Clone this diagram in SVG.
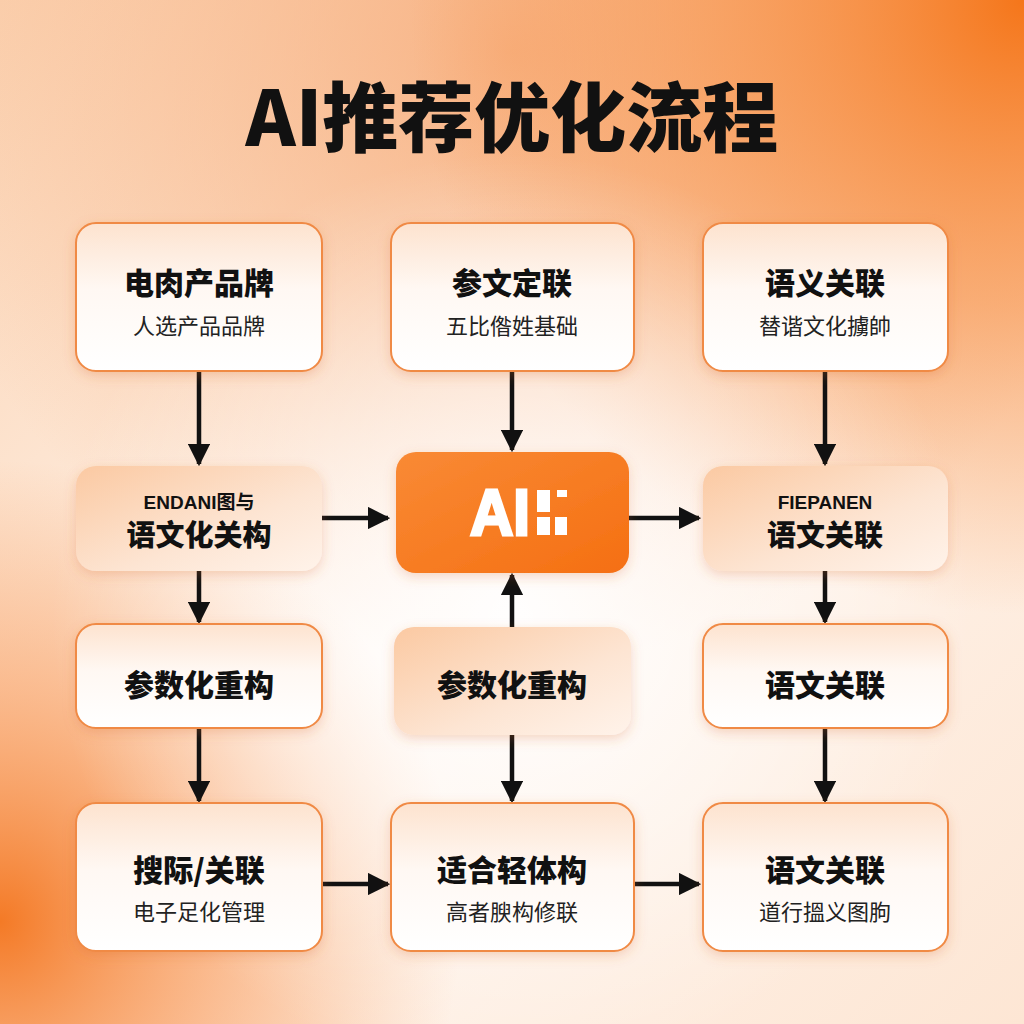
<svg xmlns="http://www.w3.org/2000/svg" width="1024" height="1024" viewBox="0 0 1024 1024">
<defs>
  <linearGradient id="bgBase" x1="0" y1="0" x2="1" y2="1">
    <stop offset="0" stop-color="#fbd3b3"/>
    <stop offset="0.5" stop-color="#fff6ef"/>
    <stop offset="1" stop-color="#fde6d4"/>
  </linearGradient>
  <radialGradient id="glowTR" cx="1" cy="0" r="0.6">
    <stop offset="0" stop-color="#f5761a"/>
    <stop offset="0.5" stop-color="#f7934a" stop-opacity="0.7"/>
    <stop offset="1" stop-color="#f7934a" stop-opacity="0"/>
  </radialGradient>
  <radialGradient id="glowBL" cx="0" cy="0.9" r="0.45">
    <stop offset="0" stop-color="#f47a26"/>
    <stop offset="0.5" stop-color="#f89a5a" stop-opacity="0.6"/>
    <stop offset="1" stop-color="#f89a5a" stop-opacity="0"/>
  </radialGradient>
  <radialGradient id="glowTop" cx="0.5" cy="0.05" r="0.6">
    <stop offset="0" stop-color="#f6a670" stop-opacity="0.8"/>
    <stop offset="1" stop-color="#f6a670" stop-opacity="0"/>
  </radialGradient>
  <radialGradient id="centerWhite" cx="0.5" cy="0.6" r="0.45">
    <stop offset="0" stop-color="#ffffff" stop-opacity="0.95"/>
    <stop offset="1" stop-color="#ffffff" stop-opacity="0"/>
  </radialGradient>
  <linearGradient id="cardFill" x1="0" y1="0" x2="0" y2="1">
    <stop offset="0" stop-color="#fde3cf"/>
    <stop offset="0.45" stop-color="#fff8f3"/>
    <stop offset="1" stop-color="#ffffff"/>
  </linearGradient>
  <linearGradient id="softFill" x1="0" y1="0" x2="1" y2="1">
    <stop offset="0" stop-color="#fbc9a2"/>
    <stop offset="0.6" stop-color="#fde5d3"/>
    <stop offset="1" stop-color="#fff3ea"/>
  </linearGradient>
  <linearGradient id="aiFill" x1="0" y1="0" x2="1" y2="1">
    <stop offset="0" stop-color="#f98a35"/>
    <stop offset="1" stop-color="#f56f12"/>
  </linearGradient>
  <filter id="shadow" x="-20%" y="-20%" width="140%" height="150%">
    <feDropShadow dx="0" dy="4" stdDeviation="6" flood-color="#d9692a" flood-opacity="0.25"/>
  </filter>
  <marker id="arrow" viewBox="0 0 10 10" refX="9" refY="5" markerWidth="5" markerHeight="5" orient="auto" markerUnits="strokeWidth">
    <path d="M0,0 L10,5 L0,10 z" fill="#111"/>
  </marker>
</defs>
<style>
  .card { fill: url(#cardFill); stroke: #f08a45; stroke-width: 2; filter: url(#shadow); }
  .soft { fill: url(#softFill); filter: url(#shadow); }
  .h { font-family: "Noto Sans CJK SC", "Noto Sans", sans-serif; font-weight: 900; fill: #111; text-anchor: middle; }
  .s { font-family: "Noto Sans CJK SC", "Noto Sans", sans-serif; font-weight: 400; fill: #222; text-anchor: middle; font-size: 22px; }
  .en { font-family: "Liberation Sans", "Noto Sans CJK SC", sans-serif; font-weight: 700; fill: #111; text-anchor: middle; font-size: 19px; }
  .conn line { stroke: #111; stroke-width: 4.5; marker-end: url(#arrow); }
</style>

<rect width="1024" height="1024" fill="url(#bgBase)"/>
<rect width="1024" height="1024" fill="url(#glowTop)"/>
<rect width="1024" height="1024" fill="url(#glowTR)"/>
<rect width="1024" height="1024" fill="url(#glowBL)"/>
<rect width="1024" height="1024" fill="url(#centerWhite)"/>

<text id="title" x="512" y="146" class="h" font-size="76">AI推荐优化流程</text>

<g class="conn">
  <line x1="199" y1="371" x2="199" y2="464"/>
  <line x1="512" y1="371" x2="512" y2="450"/>
  <line x1="825" y1="371" x2="825" y2="464"/>
  <line x1="322" y1="518" x2="388" y2="518"/>
  <line x1="629" y1="518" x2="699" y2="518"/>
  <line x1="199" y1="571" x2="199" y2="622"/>
  <line x1="512" y1="627" x2="512" y2="575"/>
  <line x1="825" y1="571" x2="825" y2="622"/>
  <line x1="199" y1="728" x2="199" y2="801"/>
  <line x1="512" y1="735" x2="512" y2="801"/>
  <line x1="825" y1="728" x2="825" y2="801"/>
  <line x1="322" y1="884" x2="388" y2="884"/>
  <line x1="634" y1="884" x2="699" y2="884"/>
</g>

<g id="n1">
  <rect x="76" y="223" width="246" height="148" rx="20" class="card"/>
  <text x="199" y="294" class="h" font-size="30">电肉产品牌</text>
  <text x="199" y="334" class="s">人选产品品牌</text>
</g>
<g id="n2">
  <rect x="391" y="223" width="243" height="148" rx="20" class="card"/>
  <text x="512" y="294" class="h" font-size="30">参文定联</text>
  <text x="512" y="334" class="s">五比偺姓基础</text>
</g>
<g id="n3">
  <rect x="703" y="223" width="245" height="148" rx="20" class="card"/>
  <text x="825" y="294" class="h" font-size="30">语义关联</text>
  <text x="825" y="334" class="s">替谐文化擄帥</text>
</g>

<g id="n4">
  <rect x="76" y="466" width="246" height="105" rx="20" class="soft"/>
  <text x="199" y="509" class="en">ENDANI图与</text>
  <text x="199" y="546" class="h" font-size="29">语文化关构</text>
</g>
<g id="n5">
  <rect x="396" y="452" width="233" height="121" rx="20" fill="url(#aiFill)" filter="url(#shadow)"/>
  <text x="470" y="535" font-family="Liberation Sans, Arial, sans-serif" font-weight="700" font-size="64" fill="#fff" stroke="#fff" stroke-width="3" textLength="60" lengthAdjust="spacingAndGlyphs">AI</text>
  <rect x="537" y="490" width="13" height="22" fill="#fff"/>
  <rect x="557" y="490" width="10" height="7" fill="#fff"/>
  <rect x="537" y="517" width="13" height="18" fill="#fff"/>
  <rect x="555" y="517" width="12" height="18" fill="#fff"/>
</g>
<g id="n6">
  <rect x="703" y="466" width="245" height="105" rx="20" class="soft"/>
  <text x="825" y="509" class="en">FIEPANEN</text>
  <text x="825" y="546" class="h" font-size="29">语文关联</text>
</g>

<g id="n7">
  <rect x="76" y="624" width="246" height="104" rx="20" class="card"/>
  <text x="199" y="696" class="h" font-size="30">参数化重构</text>
</g>
<g id="n8">
  <rect x="394" y="627" width="237" height="108" rx="20" class="soft"/>
  <text x="512" y="696" class="h" font-size="30">参数化重构</text>
</g>
<g id="n9">
  <rect x="703" y="624" width="245" height="104" rx="20" class="card"/>
  <text x="825" y="696" class="h" font-size="30">语文关联</text>
</g>

<g id="n10">
  <rect x="76" y="803" width="246" height="148" rx="20" class="card"/>
  <text x="199" y="881" class="h" font-size="30">搜际/关联</text>
  <text x="199" y="920" class="s">电子足化管理</text>
</g>
<g id="n11">
  <rect x="391" y="803" width="243" height="148" rx="20" class="card"/>
  <text x="512" y="881" class="h" font-size="30">适合轻体构</text>
  <text x="512" y="920" class="s">高者腴构修联</text>
</g>
<g id="n12">
  <rect x="703" y="803" width="245" height="148" rx="20" class="card"/>
  <text x="825" y="881" class="h" font-size="30">语文关联</text>
  <text x="825" y="920" class="s">道行搵义图朐</text>
</g>
</svg>
